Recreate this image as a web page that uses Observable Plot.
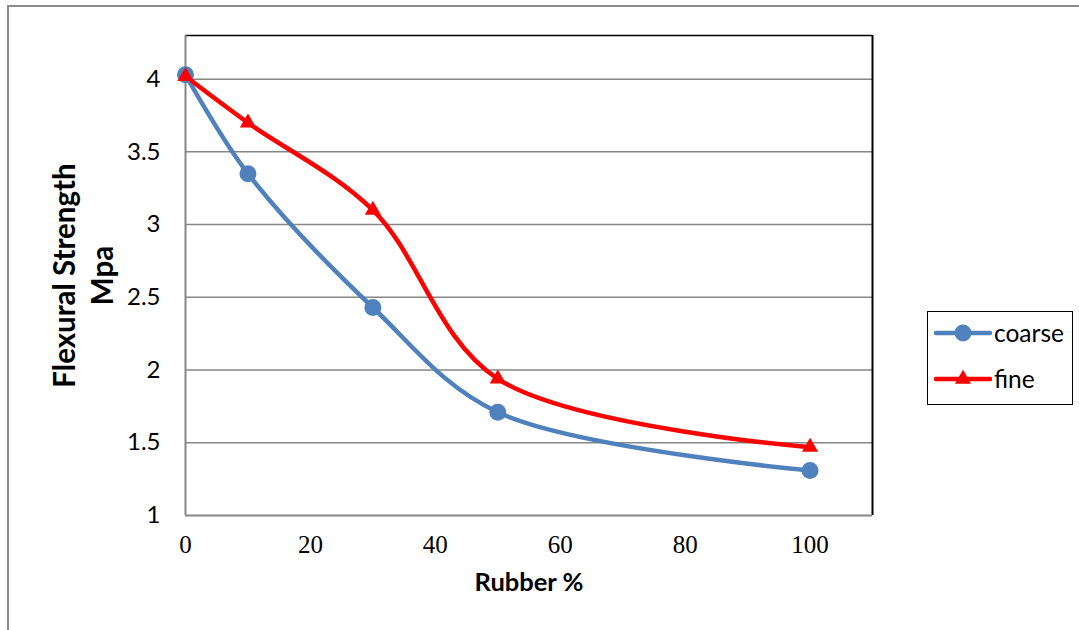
<!DOCTYPE html>
<html>
<head>
<meta charset="utf-8">
<script src="https://cdn.jsdelivr.net/npm/d3@7"></script>
<script src="https://cdn.jsdelivr.net/npm/@observablehq/plot@0.6"></script>
<style>
  html, body { margin: 0; padding: 0; background: #fff; }
  #wrap { position: relative; width: 1079px; height: 630px; overflow: hidden; }
  #border { position: absolute; left: 7px; top: 5px; width: 1200px; height: 700px; border-top: 2px solid #8c8c8c; border-left: 2px solid #8c8c8c; }
  #legend { position: absolute; left: 927px; top: 311px; width: 144px; height: 92px; border: 1.5px solid #000; background: #fff;
            font-family: Lato, "Open Sans", sans-serif; font-size: 24.5px; }
  .item { position: absolute; left: 6px; display: flex; align-items: center; }
  .item span { margin-left: 2px; }
</style>
</head>
<body>
<div id="wrap">
  <div id="border"></div>
  <div id="chart"></div>
  <div id="legend"></div>
</div>
<script>
const rubber = [0, 10, 30, 50, 100];
const coarse = [4.03, 3.35, 2.43, 1.71, 1.31];
const fine = [4.02, 3.70, 3.10, 1.94, 1.47];
const xTicks = [0, 20, 40, 60, 80, 100];
const yTicks = [1, 1.5, 2, 2.5, 3, 3.5, 4];
const seriesNames = ["coarse", "fine"];
const seriesColors = ["#4F81BD", "#FF0000"];

const coarseData = rubber.map((r, i) => ({x: r, y: coarse[i]}));
const fineData = rubber.map((r, i) => ({x: r, y: fine[i]}));

const sans = "Lato, Open Sans, sans-serif";
const chart = Plot.plot({
  width: 1079,
  height: 630,
  marginLeft: 185,
  marginRight: 207,
  marginTop: 35,
  marginBottom: 115,
  x: {domain: [0, 110]},
  y: {domain: [1, 4.3]},
  style: {background: "transparent", overflow: "visible"},
  marks: [
    Plot.ruleY(yTicks.filter(d => d > 1), {stroke: "#868686", strokeWidth: 1.5}),
    Plot.ruleY([4.3], {stroke: "#000", strokeWidth: 1.5}),
    Plot.ruleX([110], {stroke: "#000", strokeWidth: 2}),
    Plot.ruleX([0], {stroke: "#868686", strokeWidth: 2}),
    Plot.ruleY([1], {stroke: "#868686", strokeWidth: 2}),
    Plot.axisY({ticks: yTicks, tickSize: 0, tickPadding: 25, fontSize: 24, label: null,
      fontFamily: sans, tickFormat: d => String(d), fill: "#000"}),
    Plot.axisX({ticks: xTicks, tickSize: 0, tickPadding: 20, fontSize: 25, label: null,
      fontFamily: "Liberation Serif, DejaVu Serif, serif", fill: "#000"}),
    Plot.line(coarseData, {x: "x", y: "y", stroke: seriesColors[0], strokeWidth: 4.5, curve: "catmull-rom"}),
    Plot.line(fineData, {x: "x", y: "y", stroke: seriesColors[1], strokeWidth: 4.5, curve: "catmull-rom"}),
    Plot.dot(coarseData, {x: "x", y: "y", r: 8.5, fill: seriesColors[0], symbol: "circle"}),
    Plot.dot(fineData, {x: "x", y: "y", r: 6, fill: seriesColors[1], symbol: "triangle"}),
    Plot.text(["Flexural Strength"], {frameAnchor: "left", dx: -120, rotate: -90, fontSize: 29.5, fontWeight: "bold",
      fontFamily: sans, fill: "#000", textAnchor: "middle"}),
    Plot.text(["Mpa"], {frameAnchor: "left", dx: -82, rotate: -90, fontSize: 29.5, fontWeight: "bold",
      fontFamily: sans, fill: "#000", textAnchor: "middle"}),
    Plot.text(["Rubber %"], {frameAnchor: "bottom", dy: 75, fontSize: 25.5, fontWeight: "bold",
      fontFamily: sans, fill: "#000"})
  ]
});
document.getElementById("chart").appendChild(chart);

const legend = document.getElementById("legend");
const symbols = [d3.symbolCircle, d3.symbolTriangle];
const sizes = [Math.PI * 8.5 * 8.5, Math.PI * 6 * 6];
seriesNames.forEach((name, i) => {
  const item = document.createElement("div");
  item.className = "item";
  item.style.top = (i === 0 ? 6 : 52) + "px";
  const svg = d3.create("svg").attr("width", 58).attr("height", 26);
  svg.append("line").attr("x1", 2).attr("x2", 56).attr("y1", 13).attr("y2", 13)
    .attr("stroke", seriesColors[i]).attr("stroke-width", 4.5).attr("stroke-linecap", "round");
  svg.append("path").attr("d", d3.symbol(symbols[i], sizes[i])()).attr("transform", "translate(29,13)")
    .attr("fill", seriesColors[i]);
  item.appendChild(svg.node());
  const t = document.createElement("span");
  t.textContent = name;
  item.appendChild(t);
  legend.appendChild(item);
});
</script>
</body>
</html>
